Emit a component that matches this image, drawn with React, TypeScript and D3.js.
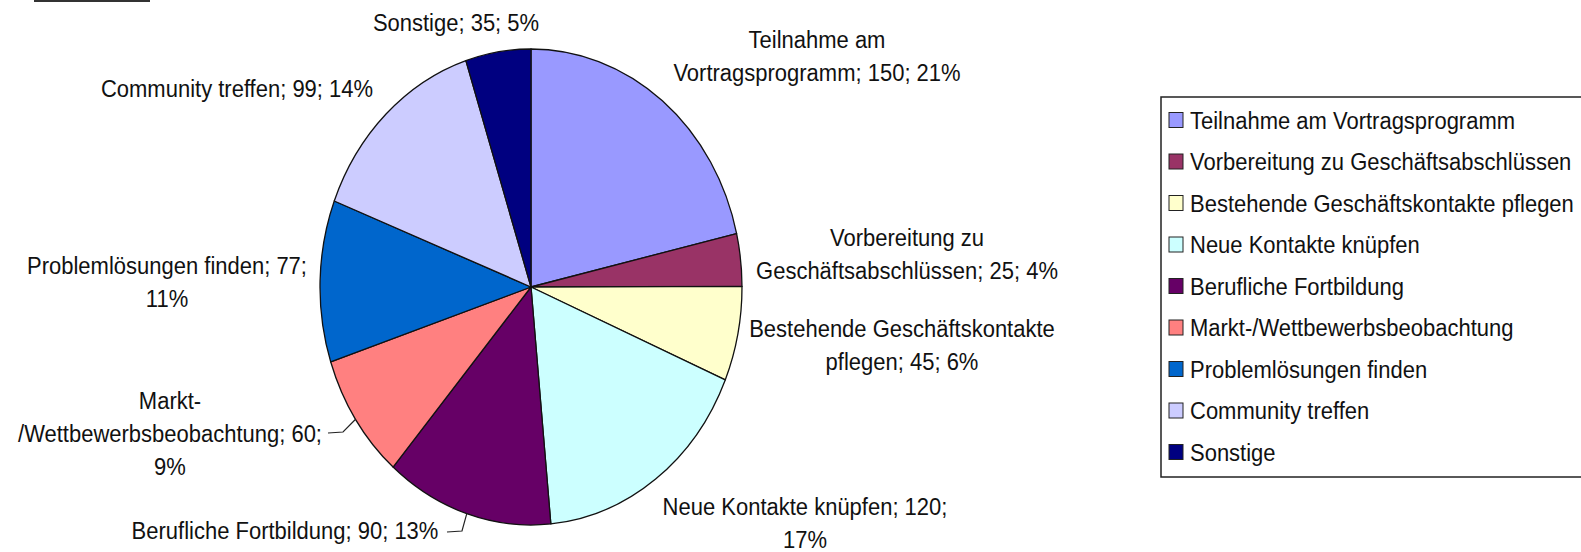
import { useEffect, useRef } from 'react';
import * as d3 from 'd3';

const categories = [
  'Teilnahme am Vortragsprogramm',
  'Vorbereitung zu Geschäftsabschlüssen',
  'Bestehende Geschäftskontakte pflegen',
  'Neue Kontakte knüpfen',
  'Berufliche Fortbildung',
  'Markt-/Wettbewerbsbeobachtung',
  'Problemlösungen finden',
  'Community treffen',
  'Sonstige',
];
const values = [150, 25, 45, 120, 90, 60, 77, 99, 35];
const colors = ['#9999FF', '#993366', '#FFFFCC', '#CCFFFF', '#660066', '#FF8080', '#0066CC', '#CCCCFF', '#000080'];

// how Excel broke each data label into lines
const labelLines = [
  ['Teilnahme am', 'Vortragsprogramm; 150; 21%'],
  ['Vorbereitung zu', 'Geschäftsabschlüssen; 25; 4%'],
  ['Bestehende Geschäftskontakte', 'pflegen; 45; 6%'],
  ['Neue Kontakte knüpfen; 120;', '17%'],
  ['Berufliche Fortbildung; 90; 13%'],
  ['Markt-', '/Wettbewerbsbeobachtung; 60;', '9%'],
  ['Problemlösungen finden; 77;', '11%'],
  ['Community treffen; 99; 14%'],
  ['Sonstige; 35; 5%'],
];
// label anchor: center x, middle of first line
const labelPos = [
  [817, 39], [907, 237], [902, 328], [805, 506], [285, 530],
  [170, 400], [167, 265], [237, 88], [456, 22],
];
// leader line start (label side), null when none
const leaderStart: (number[] | null)[] = [
  null, null, null, null, [447, 532], [328, 433], null, null, null,
];

const W = 1581;
const H = 552;
const cx = 531;
const cy = 287;
const rx = 211;
const ry = 238;
const stretch = 1.12;
const fontSize = 22;
const lineStep = 29.5;
const font = '"Liberation Sans", Arial, sans-serif';

const App = () => {
  const svgRef = useRef<SVGSVGElement>(null);

  useEffect(() => {
    if (!svgRef.current) return;
    const svg = d3.select(svgRef.current);
    svg.selectAll('*').remove();

    svg.append('rect').attr('width', W).attr('height', H).attr('fill', '#fff');

    // remains of a box cut off at the top
    svg.append('line')
      .attr('x1', 34).attr('x2', 150).attr('y1', 1).attr('y2', 1)
      .attr('stroke', '#333').attr('stroke-width', 2);

    const pie = d3.pie<number>().sort(null).value(d => d);
    const arcs = pie(values);
    const arc = d3.arc<d3.PieArcDatum<number>>().innerRadius(0).outerRadius(rx);

    const g = svg.append('g')
      .attr('transform', `translate(${cx},${cy}) scale(1,${ry / rx})`);

    g.selectAll('path')
      .data(arcs)
      .join('path')
      .attr('d', arc)
      .attr('fill', (_, i) => colors[i])
      .attr('stroke', '#111')
      .attr('stroke-width', 1.3)
      .attr('stroke-linejoin', 'round')
      .attr('vector-effect', 'non-scaling-stroke');

    // leader lines to the edge at mid angle
    arcs.forEach((a, i) => {
      const s = leaderStart[i];
      if (!s) return;
      const mid = (a.startAngle + a.endAngle) / 2;
      const ex = cx + rx * Math.sin(mid);
      const ey = cy - ry * Math.cos(mid);
      svg.append('polyline')
        .attr('points', `${s[0]},${s[1]} ${s[0] + 15},${s[1] - 1} ${ex},${ey}`)
        .attr('fill', 'none')
        .attr('stroke', '#222')
        .attr('stroke-width', 1.2);
    });

    // data labels
    labelLines.forEach((lines, i) => {
      const [x, y] = labelPos[i];
      const t = svg.append('text')
        .attr('transform', `translate(${x},${y}) scale(1,${stretch})`)
        .attr('text-anchor', 'middle')
        .attr('font-family', font)
        .attr('font-size', fontSize)
        .attr('fill', '#111');
      lines.forEach((ln, j) => {
        t.append('tspan')
          .attr('x', 0)
          .attr('y', j * lineStep)
          .attr('dy', '0.35em')
          .text(ln);
      });
    });

    // legend
    svg.append('rect')
      .attr('x', 1161).attr('y', 97)
      .attr('width', 440).attr('height', 380)
      .attr('fill', '#fff')
      .attr('stroke', '#222')
      .attr('stroke-width', 1.5);

    const ly = d3.scalePoint<string>().domain(categories).range([120, 452]);
    categories.forEach((c, i) => {
      const y = ly(c)!;
      svg.append('rect')
        .attr('x', 1169).attr('y', y - 7.5)
        .attr('width', 14).attr('height', 15)
        .attr('fill', colors[i])
        .attr('stroke', '#222')
        .attr('stroke-width', 1);
      svg.append('text')
        .attr('transform', `translate(1190,${y}) scale(1,${stretch})`)
        .attr('dy', '0.35em')
        .attr('font-family', font)
        .attr('font-size', fontSize)
        .attr('fill', '#111')
        .text(c);
    });
  }, []);

  return (
    <svg
      ref={svgRef}
      width={W}
      height={H}
      style={{ position: 'absolute', left: 0, top: 0, display: 'block' }}
    />
  );
};

export default App;
